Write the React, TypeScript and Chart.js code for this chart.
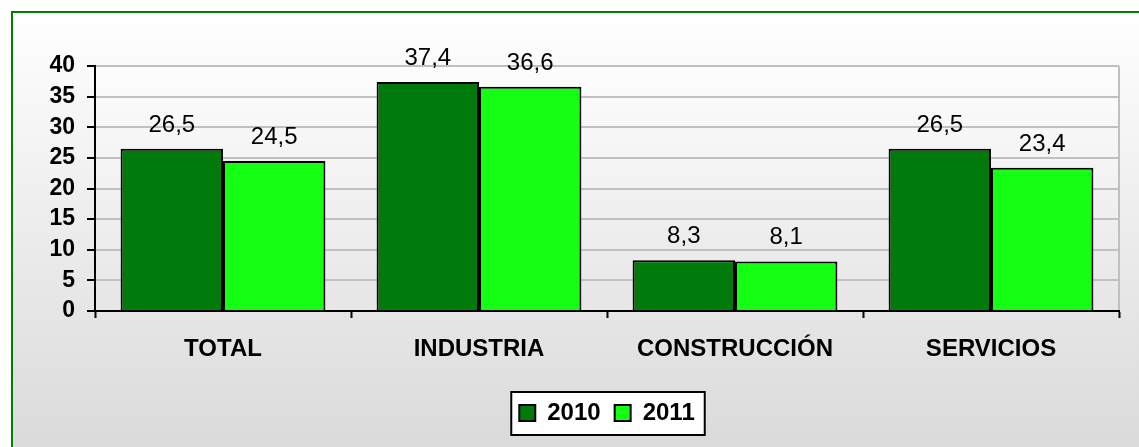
import React, { useEffect, useRef } from "react";
import { Chart, registerables } from "chart.js";

Chart.register(...registerables);

const categories = ["TOTAL", "INDUSTRIA", "CONSTRUCCIÓN", "SERVICIOS"];
const seriesNames = ["2010", "2011"];
const values2010 = [26.5, 37.4, 8.3, 26.5];
const values2011 = [24.5, 36.6, 8.1, 23.4];
const yTickValues = [0, 5, 10, 15, 20, 25, 30, 35, 40];

const FONT = "Arial, 'Liberation Sans', sans-serif";

const decorPlugin = {
  id: "decor",
  afterUpdate(chart: any) {
    const lg = chart.legend;
    if (!lg || !chart.chartArea) return;
    const a = chart.chartArea;
    const d = (a.left + a.right) / 2 - (lg.left + lg.right) / 2;
    lg.left += d;
    lg.right += d;
    if (lg.legendHitBoxes) {
      lg.legendHitBoxes.forEach((h: any) => {
        h.left += d;
      });
    }
  },
  beforeDraw(chart: any) {
    const { ctx, width, height, chartArea: a } = chart;
    ctx.save();
    ctx.fillStyle = "#ffffff";
    ctx.fillRect(0, 0, width, height);
    const g = ctx.createLinearGradient(0, 12, 0, height);
    g.addColorStop(0, "#ffffff");
    g.addColorStop(1, "#dadada");
    ctx.fillStyle = g;
    ctx.fillRect(12, 12, width - 12, height - 12);
    ctx.strokeStyle = "#008000";
    ctx.lineWidth = 2;
    ctx.beginPath();
    ctx.moveTo(12, height);
    ctx.lineTo(12, 12);
    ctx.lineTo(width, 12);
    ctx.stroke();

    const pg = ctx.createLinearGradient(0, a.top, 0, a.bottom);
    pg.addColorStop(0, "#fdfdfd");
    pg.addColorStop(1, "#e6e6e6");
    ctx.fillStyle = pg;
    ctx.fillRect(a.left, a.top, a.right - a.left, a.bottom - a.top);
    ctx.strokeStyle = "#c0c0c0";
    ctx.lineWidth = 2;
    ctx.beginPath();
    ctx.moveTo(a.right, a.top);
    ctx.lineTo(a.right, a.bottom);
    ctx.stroke();

    const lg = chart.legend;
    if (lg && lg.legendHitBoxes && lg.legendHitBoxes.length) {
      const hb = lg.legendHitBoxes;
      let l = Infinity, r = -Infinity, t = Infinity, b = -Infinity;
      hb.forEach((h: any) => {
        l = Math.min(l, h.left);
        r = Math.max(r, h.left + h.width);
        t = Math.min(t, h.top);
        b = Math.max(b, h.top + h.height);
      });
      const cy = (t + b) / 2;
      ctx.fillStyle = "#ffffff";
      ctx.fillRect(l - 8, cy - 21, r - l + 18, 43);
      ctx.strokeStyle = "#000000";
      ctx.lineWidth = 2;
      ctx.strokeRect(l - 8, cy - 21, r - l + 18, 43);
    }
    ctx.restore();
  },
  afterDatasetsDraw(chart: any) {
    const { ctx } = chart;
    ctx.save();
    ctx.font = `normal 24px ${FONT}`;
    ctx.fillStyle = "#000000";
    ctx.textAlign = "center";
    ctx.textBaseline = "alphabetic";
    chart.data.datasets.forEach((ds: any, i: number) => {
      const meta = chart.getDatasetMeta(i);
      meta.data.forEach((bar: any, j: number) => {
        const v = ds.data[j];
        ctx.fillText(String(v).replace(".", ","), bar.x, bar.y - 17);
      });
    });
    ctx.restore();
  },
};

export default function App() {
  const ref = useRef<HTMLCanvasElement | null>(null);
  useEffect(() => {
    if (!ref.current) return;
    const chart = new Chart(ref.current, {
      type: "bar",
      data: {
        labels: categories,
        datasets: [
          {
            label: seriesNames[0],
            data: values2010,
            backgroundColor: "#007A0B",
            borderColor: "#000000",
            borderWidth: 2,
            categoryPercentage: 0.8,
            barPercentage: 1.0,
          },
          {
            label: seriesNames[1],
            data: values2011,
            backgroundColor: "#14FF14",
            borderColor: "#000000",
            borderWidth: 2,
            categoryPercentage: 0.8,
            barPercentage: 1.0,
          },
        ],
      },
      options: {
        animation: false,
        responsive: false,
        maintainAspectRatio: false,
        layout: { padding: { left: 0, right: 20, top: 66, bottom: 12 } },
        plugins: {
          tooltip: { enabled: false },
          legend: {
            position: "bottom",
            labels: {
              boxWidth: 16,
              boxHeight: 16,
              padding: 14,
              color: "#000000",
              font: { family: FONT, size: 24, weight: "bold" },
            },
          },
        },
        scales: {
          x: {
            grid: {
              display: true,
              drawOnChartArea: false,
              drawTicks: true,
              tickLength: 7,
              tickColor: "#000000",
              tickWidth: 2,
              offset: true,
            },
            border: { display: true, color: "#000000", width: 2 },
            ticks: {
              color: "#000000",
              padding: 17,
              font: { family: FONT, size: 24, weight: "bold" },
            },
            afterFit(scale: any) {
              scale.height = 76;
            },
          },
          y: {
            min: yTickValues[0],
            max: yTickValues[yTickValues.length - 1],
            afterBuildTicks(scale: any) {
              scale.ticks = yTickValues.map((v) => ({ value: v }));
            },
            grid: {
              color: "#c0c0c0",
              lineWidth: 2,
              drawTicks: true,
              tickLength: 8,
              tickColor: "#000000",
              tickWidth: 2,
            },
            border: { display: true, color: "#000000", width: 2 },
            ticks: {
              autoSkip: false,
              color: "#000000",
              padding: 12,
              font: { family: FONT, size: 23, weight: "bold", lineHeight: 1 },
            },
            afterFit(scale: any) {
              scale.width = 95;
            },
          },
        },
      },
      plugins: [decorPlugin],
    } as any);
    return () => chart.destroy();
  }, []);
  return (
    <div style={{ position: "absolute", left: 0, top: 0, width: 1139, height: 447 }}>
      <canvas ref={ref} width={1139} height={447} style={{ display: "block", width: 1139, height: 447 }} />
    </div>
  );
}
